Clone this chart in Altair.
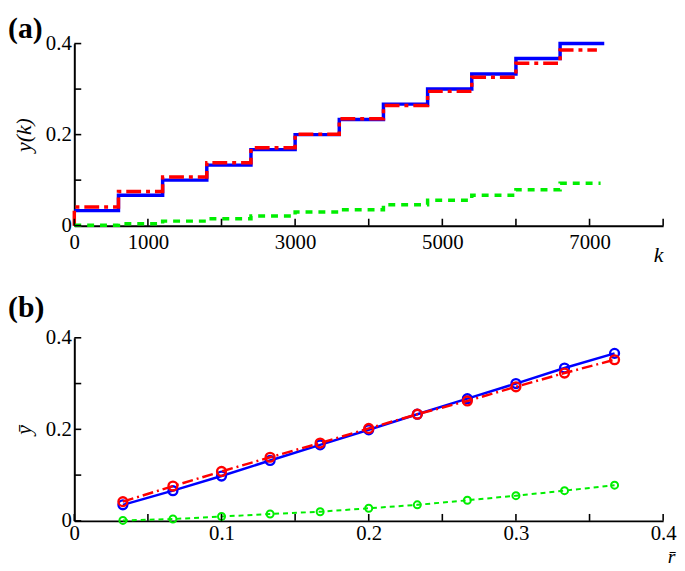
import altair as alt
import pandas as pd

# ---------------- data: panel (a) ----------------
k_steps = [0, 600, 1200, 1800, 2400, 3000, 3600, 4200, 4800, 5400, 6000, 6600]
blue_a = [0.033, 0.067, 0.100, 0.133, 0.167, 0.200, 0.233, 0.267, 0.300, 0.333, 0.367, 0.400]
red_a = [0.041, 0.075, 0.107, 0.138, 0.171, 0.201, 0.235, 0.264, 0.295, 0.326, 0.357, 0.386]
green_a = [0.001, 0.004, 0.010, 0.015, 0.021, 0.030, 0.035, 0.046, 0.056, 0.067, 0.079, 0.093]
end_k = {"blue": 7200, "red": 7100, "green": 7150}
red_start = 0.0

k_tick_values = [0, 1000, 2000, 3000, 4000, 5000, 6000, 7000, 8000]
k_label_values = [0, 1000, 3000, 5000, 7000]
ya_tick_values = [0, 0.1, 0.2, 0.3, 0.4]
ya_label_values = [0, 0.2, 0.4]

# ---------------- data: panel (b) ----------------
r_b = [0.033, 0.067, 0.100, 0.133, 0.167, 0.200, 0.233, 0.267, 0.300, 0.333, 0.367]
blue_b = [0.035, 0.066, 0.098, 0.132, 0.166, 0.199, 0.233, 0.267, 0.300, 0.334, 0.366]
red_b = [0.042, 0.076, 0.108, 0.139, 0.170, 0.202, 0.233, 0.262, 0.293, 0.323, 0.352]
green_b = [0.001, 0.004, 0.0095, 0.015, 0.020, 0.0275, 0.035, 0.045, 0.055, 0.066, 0.078]

r_tick_values = [0, 0.05, 0.1, 0.15, 0.2, 0.25, 0.3, 0.35, 0.4]
r_label_values = [0, 0.1, 0.2, 0.3, 0.4]
yb_tick_values = [0, 0.1, 0.2, 0.3, 0.4]
yb_label_values = [0, 0.2, 0.4]

panel_labels = ["(a)", "(b)"]

FONT = "Liberation Serif"
W = 595
HA, HB = 184, 185
BLUE, RED, GREEN = "#0000ff", "#ff0000", "#00ee00"
LABEL_FS = 21


def step_frame(levels, end, start=None):
    rows = []
    i = 0
    if start is not None:
        rows.append({"i": i, "k": 0, "y": start})
        i += 1
    for k, v in zip(k_steps, levels):
        rows.append({"i": i, "k": k, "y": v})
        i += 1
    rows.append({"i": i, "k": end, "y": levels[-1]})
    return pd.DataFrame(rows)


def axis_common(**kw):
    return alt.Axis(
        ticks=False, grid=False, domainColor="black", domainWidth=2,
        labelFont=FONT, labelFontSize=LABEL_FS, labelColor="black", labelFlush=False,
        titleFont=FONT, titleColor="black", titleFontWeight="normal",
        titleFontStyle="italic",
        **kw,
    )


# ---------------- panel (a) ----------------
xs_a = alt.Scale(domain=[0, 8000], nice=False, zero=False)
ys_a = alt.Scale(domain=[0, 0.4], nice=False)

x_axis_a = axis_common(
    values=k_label_values, format="d", labelPadding=6,
    title="k", titleFontSize=22,
    titleX=590, titleY=36, titleAlign="center", titleBaseline="alphabetic", titleAngle=0)
y_axis_a = axis_common(
    values=ya_label_values, format="~g", labelPadding=3,
    title="y(k)", titleFontSize=22,
    titleX=-51, titleY=HA / 2, titleAlign="center", titleBaseline="middle", titleAngle=-90)


def xa():
    return alt.X("k:Q", scale=xs_a, axis=x_axis_a)


def ya():
    return alt.Y("y:Q", scale=ys_a, axis=y_axis_a)


blue_line_a = alt.Chart(step_frame(blue_a, end_k["blue"])).mark_line(
    interpolate="step-after", color=BLUE, strokeWidth=3.5).encode(x=xa(), y=ya(), order="i:Q")
red_line_a = alt.Chart(step_frame(red_a, end_k["red"], red_start)).mark_line(
    interpolate="step-after", color=RED, strokeWidth=3.5, strokeDash=[15, 5, 4, 5]).encode(
    x=xa(), y=ya(), order="i:Q")
green_line_a = alt.Chart(step_frame(green_a, end_k["green"])).mark_line(
    interpolate="step-after", color=GREEN, strokeWidth=3.5, strokeDash=[7, 6]).encode(
    x=xa(), y=ya(), order="i:Q")

xt_a = alt.Chart(pd.DataFrame({"k": k_tick_values})).mark_rule(color="black", strokeWidth=1.6).encode(
    x=xa(), y=alt.value(HA), y2=alt.value(HA - 7))
yt_a = alt.Chart(pd.DataFrame({"y": ya_tick_values})).mark_rule(color="black", strokeWidth=1.6).encode(
    y=ya(), x=alt.value(0), x2=alt.value(7))
lab_a = alt.Chart(pd.DataFrame({"label": [panel_labels[0]]})).mark_text(
    align="left", baseline="alphabetic", font=FONT, fontSize=30, fontWeight="bold", color="black").encode(
    x=alt.value(-67), y=alt.value(-5.7), text="label:N")

panel_a = alt.layer(blue_line_a, red_line_a, green_line_a, xt_a, yt_a, lab_a).properties(width=W, height=HA)

# ---------------- panel (b) ----------------
xs_b = alt.Scale(domain=[0, 0.4], nice=False, zero=False)
ys_b = alt.Scale(domain=[0, 0.4], nice=False)

x_axis_b = axis_common(
    values=r_label_values, format="~g", labelPadding=2,
    title="r\u0304", titleFontSize=20,
    titleX=603, titleY=42.5, titleAlign="center", titleBaseline="alphabetic", titleAngle=0)
y_axis_b = axis_common(
    values=yb_label_values, format="~g", labelPadding=3,
    title="\u0233", titleFontSize=22,
    titleX=-51, titleY=HB / 2, titleAlign="center", titleBaseline="middle", titleAngle=-90)

df_b = pd.DataFrame({"r": r_b, "blue": blue_b, "red": red_b, "green": green_b})
df_b_long = df_b.melt(id_vars="r", var_name="series", value_name="yb")


def xb():
    return alt.X("r:Q", scale=xs_b, axis=x_axis_b)


def yb():
    return alt.Y("yb:Q", scale=ys_b, axis=y_axis_b)


def series_b(col, color, width, dash, size, sw):
    base = alt.Chart(df_b_long).transform_filter(alt.datum.series == col).encode(x=xb(), y=yb())
    line_kw = dict(color=color, strokeWidth=width)
    if dash:
        line_kw["strokeDash"] = dash
    line = base.mark_line(**line_kw)
    pts = base.mark_point(shape="circle", filled=False, color=color, size=size, strokeWidth=sw, opacity=1)
    return [line, pts]


layers_b = (series_b("blue", BLUE, 2.5, None, 80, 2.4)
            + series_b("red", RED, 2.5, [11, 4, 2, 4], 80, 2.4)
            + series_b("green", GREEN, 2, [5, 4], 50, 2))

xt_b = alt.Chart(pd.DataFrame({"r": r_tick_values})).mark_rule(color="black", strokeWidth=1.6).encode(
    x=xb(), y=alt.value(HB), y2=alt.value(HB - 7))
yt_b = alt.Chart(pd.DataFrame({"yb": yb_tick_values})).mark_rule(color="black", strokeWidth=1.6).encode(
    y=yb(), x=alt.value(0), x2=alt.value(7))
lab_b = alt.Chart(pd.DataFrame({"label": [panel_labels[1]]})).mark_text(
    align="left", baseline="alphabetic", font=FONT, fontSize=30, fontWeight="bold", color="black").encode(
    x=alt.value(-67), y=alt.value(-21), text="label:N")

panel_b = alt.layer(*layers_b, xt_b, yt_b, lab_b).properties(width=W, height=HB)

chart = alt.vconcat(panel_a, panel_b, spacing=28.3).properties(
    padding={"top": 3, "left": 0, "right": 0, "bottom": 0}).configure(
    font=FONT).configure_view(stroke=None)

chart.save("out.html", embed_options={"renderer": "svg", "actions": False})
